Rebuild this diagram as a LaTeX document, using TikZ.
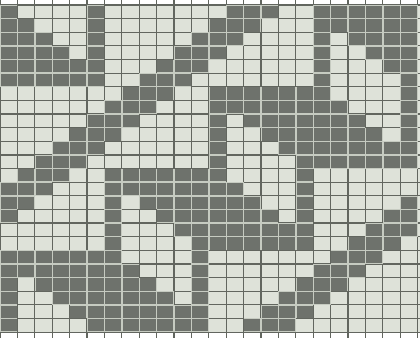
\documentclass[tikz,border=0pt]{standalone}
\definecolor{chartpale}{HTML}{DEE2D9}
\definecolor{chartdark}{HTML}{6E726C}
\definecolor{chartrule}{HTML}{62665F}
\definecolor{chartgap}{HTML}{C6CBC1}
\def\stw{17.4}
\def\sth{13.63}
\def\sttop{5}
\begin{document}
\begin{tikzpicture}[x=1pt,y=-1pt,rule/.style={chartrule,line width=1.2pt}]
\useasboundingbox (0,0) rectangle (420,338);
\fill[white] (0,0) rectangle (420,338);
\fill[chartpale] (0,\sttop) rectangle (420,{\sttop+24*\sth});
\foreach \c in {0,...,24}
  \draw[rule] ({\c*\stw},0) -- ({\c*\stw},338);
\foreach \r in {0,...,24}
  \draw[rule] (0,{\sttop+\r*\sth}) -- (420,{\sttop+\r*\sth});
\foreach \r/\a/\b in {1/1/1,1/6/6,1/14/16,1/19/24,
  2/1/2,2/6/6,2/13/15,2/19/24,
  3/1/3,3/6/6,3/12/14,3/19/19,3/21/24,
  4/1/4,4/6/6,4/11/13,4/19/19,4/22/24,
  5/1/6,5/10/12,5/19/19,5/23/24,
  6/1/6,6/9/11,6/19/19,6/24/24,
  7/8/10,7/13/19,7/24/24,
  8/7/9,8/13/20,8/24/24,
  9/6/8,9/13/13,9/15/21,9/24/24,
  10/5/7,10/13/13,10/16/22,10/24/24,
  11/4/6,11/13/13,11/17/24,
  12/3/5,12/13/13,12/18/24,
  13/2/4,13/7/13,13/18/18,
  14/1/3,14/7/14,14/18/18,
  15/1/2,15/7/7,15/9/15,15/18/18,15/24/24,
  16/1/1,16/7/7,16/10/16,16/18/18,16/23/24,
  17/7/7,17/11/18,17/22/24,
  18/7/7,18/12/18,18/21/23,
  19/1/7,19/12/12,19/20/22,
  20/1/8,20/12/12,20/19/21,
  21/1/1,21/3/9,21/12/12,21/18/20,
  22/1/1,22/4/10,22/12/12,22/17/19,
  23/1/1,23/5/12,23/16/18,
  24/1/1,24/6/12,24/15/17}{
  \fill[chartgap] ({(\a-1)*\stw},{\sttop+(\r-1)*\sth}) rectangle ({\b*\stw},{\sttop+\r*\sth});
  \foreach \c in {\a,...,\b}
    \fill[chartdark] ({(\c-1)*\stw+.7},{\sttop+(\r-1)*\sth+.7}) rectangle ({\c*\stw-.7},{\sttop+\r*\sth-.7});
}
\end{tikzpicture}
\end{document}
